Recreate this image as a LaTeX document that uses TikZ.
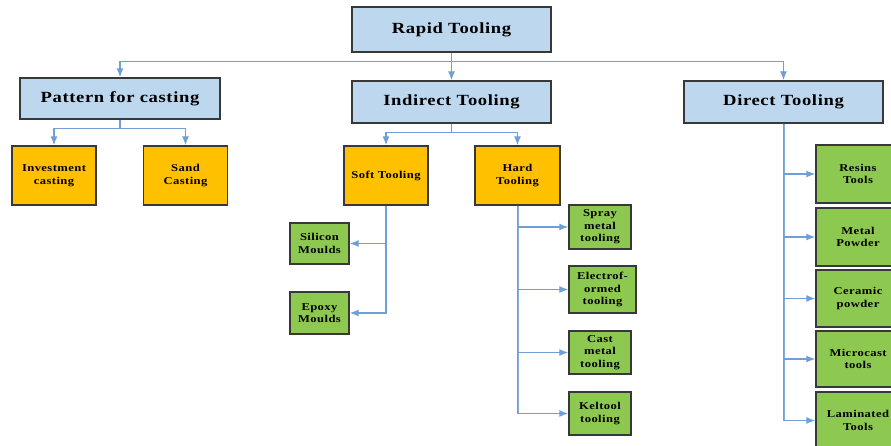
\documentclass[tikz,border=0pt]{standalone}
\usepackage{fontspec}
\setmainfont{Liberation Serif}[FakeStretch=1.2,LetterSpace=4]
\usetikzlibrary{arrows.meta}
\definecolor{headblue}{HTML}{BDD7EE}
\definecolor{tooltan}{HTML}{FFC000}
\definecolor{leafgreen}{HTML}{8DC850}
\definecolor{linkblue}{HTML}{6F9FD6}
\definecolor{boxline}{HTML}{383838}

\begin{document}
\begin{tikzpicture}[x=1pt,y=-1pt,
    box/.style={draw=boxline,line width=1.4pt,inner sep=0pt,align=center},
    head/.style={box,fill=headblue,minimum width=199pt,minimum height=42pt,font=\fontsize{15.5}{18}\selectfont\bfseries},
    mid/.style={box,fill=tooltan,minimum width=84pt,minimum height=59pt,font=\fontsize{10.5}{13}\selectfont\bfseries},
    leaf/.style={box,fill=leafgreen,font=\fontsize{10.5}{12.5}\selectfont\bfseries},
    link/.style={draw=linkblue,line width=1.3pt,-{Latex[length=9pt,width=7pt]}},
    trunk/.style={draw=linkblue!85,line width=2pt}]
    \clip (0,0) rectangle (891,446);
    \fill[white] (0,0) rectangle (891,446);
    % top levels
    \node[head,minimum height=45pt] (rapid) at (451.5,29.5) {Rapid Tooling};
    \node[head,minimum width=200pt,minimum height=41pt] (pattern) at (120,98.5) {Pattern for casting};
    \node[head] (indirect) at (451.5,102) {Indirect Tooling};
    \node[head] (direct) at (783.5,102) {Direct Tooling};
    \draw[link] (rapid) -- (indirect);
    \draw[link] (rapid.south) -- ++(0,9) -| (pattern.north);
    \draw[link] (rapid.south) -- ++(0,9) -| (direct.north);
    % pattern for casting
    \node[mid] (invest) at (54,175.5) {Investment\\casting};
    \node[mid] (sand) at (185.5,175.5) {Sand\\Casting};
    \draw[link] (pattern.south) -- ++(0,9) -| (invest.north);
    \draw[link] (pattern.south) -- ++(0,9) -| (sand.north);
    % indirect tooling
    \node[mid] (soft) at (386,175.5) {Soft Tooling};
    \node[mid,minimum width=85pt] (hard) at (517.5,175.5) {Hard\\Tooling};
    \draw[link] (indirect.south) -- ++(0,9) -| (soft.north);
    \draw[link] (indirect.south) -- ++(0,9) -| (hard.north);
    \node[leaf,minimum width=59pt,minimum height=41pt] (silicon) at (319.5,243.5) {Silicon\\Moulds};
    \node[leaf,minimum width=59pt,minimum height=42pt] (epoxy) at (319.5,313) {Epoxy\\Moulds};
    \draw[trunk] (soft.south) -- (soft.south |- epoxy.east);
    \draw[link] (soft.south) |- (silicon.east);
    \draw[link] (soft.south) |- (epoxy.east);
    \node[leaf,minimum width=62pt,minimum height=44pt] (spray) at (600,227) {Spray\\metal\\tooling};
    \node[leaf,minimum width=67pt,minimum height=47pt] (electro) at (602.5,289.5) {Electrof-\\ormed\\tooling};
    \node[leaf,minimum width=62pt,minimum height=43pt] (cast) at (600,352.5) {Cast\\metal\\tooling};
    \node[leaf,minimum width=62pt,minimum height=43pt] (keltool) at (600,413.5) {Keltool\\tooling};
    \draw[trunk] (hard.south) -- (hard.south |- keltool.west);
    \foreach \n in {spray,electro,cast,keltool}
        \draw[link] (hard.south) |- (\n.west);
    % direct tooling
    \node[leaf,minimum width=84pt,minimum height=58pt] (resins) at (858,174) {Resins\\Tools};
    \node[leaf,minimum width=84pt,minimum height=58pt] (metal) at (858,237) {Metal\\Powder};
    \node[leaf,minimum width=84pt,minimum height=57pt] (ceramic) at (858,298.5) {Ceramic\\powder};
    \node[leaf,minimum width=84pt,minimum height=56pt] (microcast) at (858,359) {Microcast\\tools};
    \node[leaf,minimum width=84pt,minimum height=57pt] (laminated) at (858,420.5) {Laminated\\Tools};
    \draw[trunk] (direct.south) -- (direct.south |- laminated.west);
    \foreach \n in {resins,metal,ceramic,microcast,laminated}
        \draw[link] (direct.south) |- (\n.west);
\end{tikzpicture}
\end{document}
